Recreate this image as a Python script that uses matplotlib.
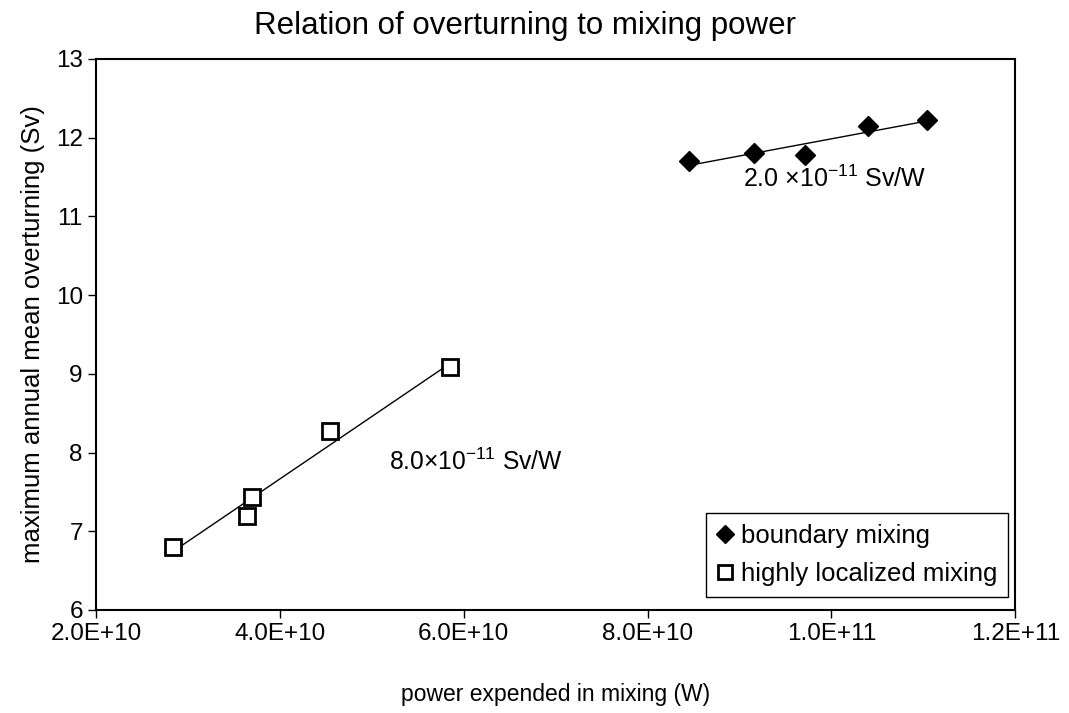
import matplotlib.pyplot as plt
import numpy as np

plt.rcParams['font.family'] = ['Liberation Sans', 'DejaVu Sans']
plt.rcParams['mathtext.fontset'] = 'custom'
plt.rcParams['mathtext.rm'] = 'Liberation Sans'
plt.rcParams['mathtext.it'] = 'Liberation Sans:italic'

# boundary mixing runs
boundary_power = [8.45e10, 9.16e10, 9.71e10, 1.04e11, 1.104e11]
boundary_overturning = [11.70, 11.80, 11.78, 12.15, 12.22]

# highly localized mixing runs
local_power = [2.84e10, 3.64e10, 3.70e10, 4.55e10, 5.85e10]
local_overturning = [6.80, 7.19, 7.44, 8.27, 9.08]

xticks = [2.0e10, 4.0e10, 6.0e10, 8.0e10, 1.0e11, 1.2e11]
xtick_labels = ['2.0E+10', '4.0E+10', '6.0E+10', '8.0E+10', '1.0E+11', '1.2E+11']
yticks = [6, 7, 8, 9, 10, 11, 12, 13]

fig = plt.figure(figsize=(10.69, 7.13), dpi=100)
ax = fig.add_axes([0.0898, 0.1445, 0.860, 0.773])

ax.plot(boundary_power, boundary_overturning, linestyle='none', marker='D',
        markersize=10, color='black', label='boundary mixing')
ax.plot(local_power, local_overturning, linestyle='none', marker='s',
        markersize=11, markerfacecolor='white', markeredgecolor='black',
        markeredgewidth=2, label='highly localized mixing')

# linear trend lines over each series
for xs, ys in [(boundary_power, boundary_overturning), (local_power, local_overturning)]:
    xs = np.array(xs)
    k, b = np.polyfit(xs, ys, 1)
    xl = np.array([xs.min(), xs.max()])
    ax.plot(xl, k * xl + b, color='black', linewidth=1, zorder=1)

ax.text(9.04e10, 11.48, r'2.0 $\times$10$^{\mathrm{-11}}$ Sv/W', fontsize=18, va='center')
ax.text(5.19e10, 7.88, r'8.0$\times$10$^{\mathrm{-11}}$ Sv/W', fontsize=17.7, va='center')

ax.set_xlim(2.0e10, 1.2e11)
ax.set_ylim(6, 13)
ax.set_xticks(xticks)
ax.set_xticklabels(xtick_labels)
ax.set_yticks(yticks)
ax.tick_params(direction='out', length=6, width=1, labelsize=17.5, color='black')
for s in ax.spines.values():
    s.set_linewidth(1.5)

ax.set_xlabel('power expended in mixing (W)', fontsize=16.5, labelpad=27)
ax.set_ylabel('maximum annual mean overturning (Sv)', fontsize=18.5, labelpad=8)
ax.set_title('Relation of overturning to mixing power', fontsize=22.5, pad=18, x=0.467)

leg = ax.legend(loc='lower right', fontsize=18.5, handlelength=0.6, handletextpad=0.3,
                fancybox=False, framealpha=1, edgecolor='black', borderpad=0.43,
                labelspacing=0.52, borderaxespad=0, markerscale=0.9,
                bbox_to_anchor=(0.992, 0.024))
leg.get_frame().set_linewidth(1)

fig.savefig('out.png', dpi=100)
